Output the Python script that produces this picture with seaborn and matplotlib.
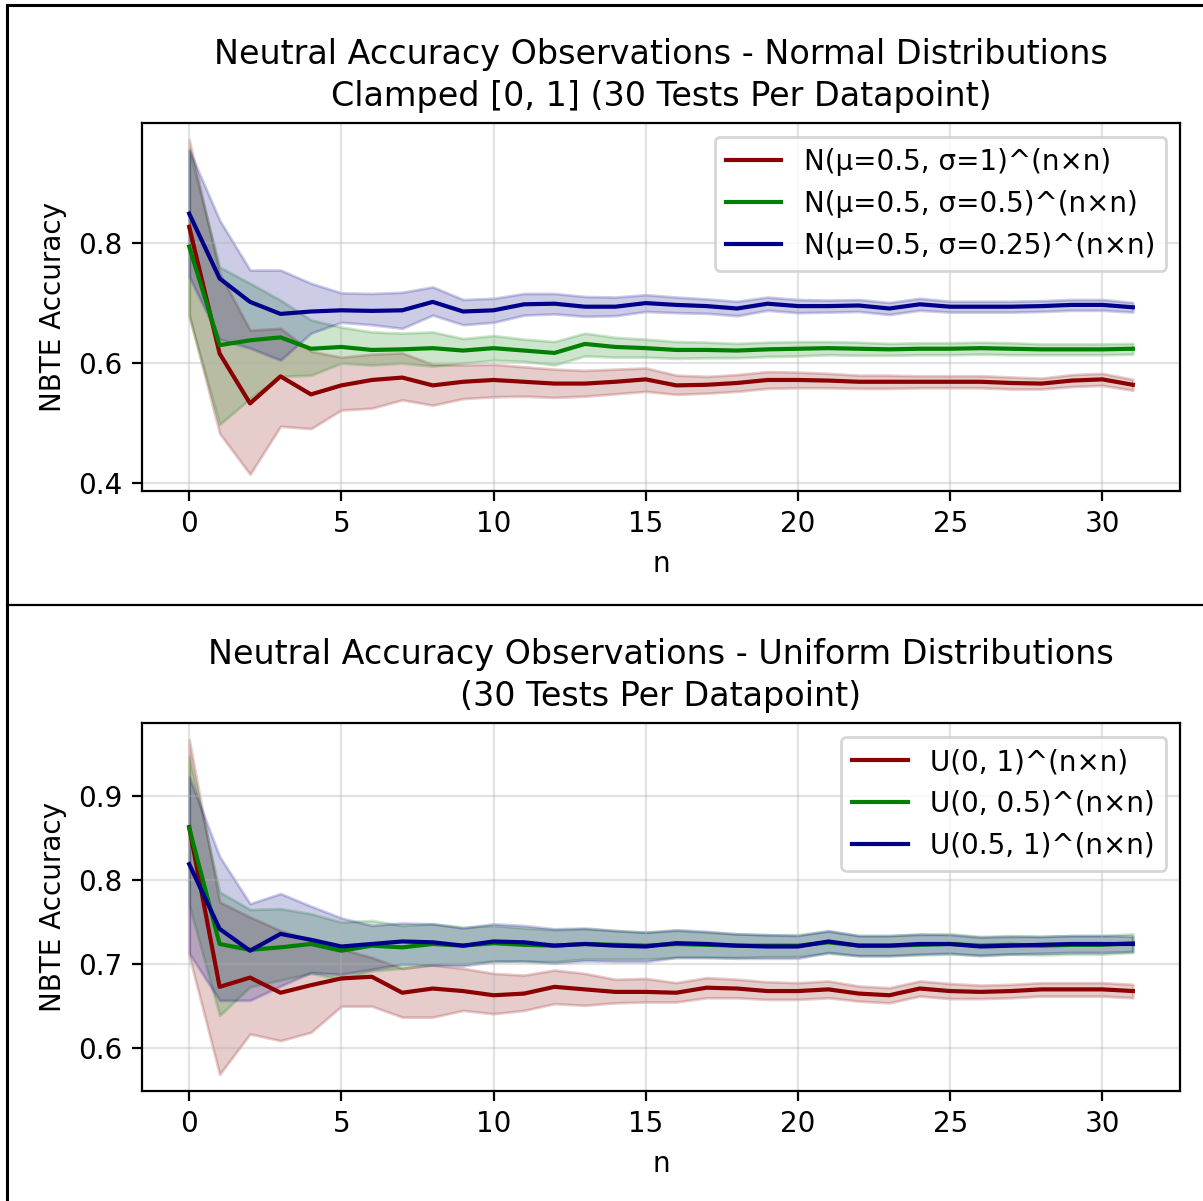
import numpy as np
import seaborn as sns
import matplotlib.pyplot as plt
from matplotlib.lines import Line2D

# n values (matrix size)
n = np.arange(32)

# Normal distributions (clamped [0, 1])
norm_labels = ["N(μ=0.5, σ=1)^(n×n)", "N(μ=0.5, σ=0.5)^(n×n)", "N(μ=0.5, σ=0.25)^(n×n)"]

norm1_mean = [0.827, 0.616, 0.533, 0.578, 0.548, 0.563, 0.572, 0.576, 0.563, 0.569, 0.572, 0.569, 0.566, 0.566, 0.569, 0.573,
              0.563, 0.564, 0.567, 0.572, 0.572, 0.571, 0.569, 0.569, 0.569, 0.569, 0.569, 0.567, 0.566, 0.571, 0.573, 0.564]
norm1_lo = [0.680, 0.483, 0.415, 0.495, 0.491, 0.522, 0.525, 0.539, 0.530, 0.541, 0.544, 0.545, 0.543, 0.545, 0.549, 0.553,
            0.548, 0.550, 0.553, 0.558, 0.559, 0.559, 0.558, 0.558, 0.559, 0.559, 0.559, 0.557, 0.557, 0.561, 0.563, 0.555]
norm1_hi = [0.972, 0.750, 0.655, 0.658, 0.620, 0.610, 0.615, 0.617, 0.598, 0.597, 0.598, 0.594, 0.590, 0.588, 0.590, 0.592,
            0.580, 0.578, 0.581, 0.586, 0.585, 0.583, 0.580, 0.580, 0.579, 0.579, 0.579, 0.577, 0.575, 0.581, 0.583, 0.573]

norm05_mean = [0.794, 0.630, 0.638, 0.643, 0.624, 0.627, 0.622, 0.623, 0.625, 0.621, 0.625, 0.621, 0.617, 0.632, 0.627, 0.625,
               0.622, 0.622, 0.621, 0.623, 0.624, 0.625, 0.624, 0.623, 0.624, 0.624, 0.625, 0.624, 0.623, 0.623, 0.623, 0.624]
norm05_lo = [0.677, 0.498, 0.541, 0.578, 0.580, 0.600, 0.597, 0.600, 0.595, 0.600, 0.605, 0.603, 0.597, 0.612, 0.610, 0.610,
             0.608, 0.609, 0.609, 0.611, 0.612, 0.614, 0.613, 0.613, 0.614, 0.614, 0.615, 0.614, 0.614, 0.614, 0.614, 0.615]
norm05_hi = [0.955, 0.760, 0.733, 0.705, 0.672, 0.660, 0.652, 0.650, 0.652, 0.641, 0.646, 0.640, 0.636, 0.650, 0.643, 0.640,
             0.636, 0.635, 0.633, 0.635, 0.636, 0.636, 0.635, 0.633, 0.634, 0.634, 0.635, 0.634, 0.632, 0.632, 0.632, 0.633]

norm025_mean = [0.849, 0.741, 0.702, 0.682, 0.686, 0.688, 0.687, 0.688, 0.702, 0.686, 0.688, 0.698, 0.699, 0.694, 0.694, 0.700,
                0.697, 0.695, 0.691, 0.699, 0.695, 0.695, 0.696, 0.691, 0.698, 0.694, 0.694, 0.694, 0.695, 0.697, 0.697, 0.693]
norm025_lo = [0.744, 0.640, 0.625, 0.605, 0.650, 0.668, 0.664, 0.658, 0.680, 0.664, 0.668, 0.680, 0.682, 0.678, 0.679, 0.686,
              0.684, 0.683, 0.679, 0.688, 0.684, 0.685, 0.686, 0.681, 0.688, 0.685, 0.685, 0.685, 0.686, 0.688, 0.688, 0.685]
norm025_hi = [0.955, 0.838, 0.755, 0.755, 0.733, 0.717, 0.716, 0.718, 0.727, 0.706, 0.708, 0.716, 0.716, 0.711, 0.710, 0.714,
              0.710, 0.707, 0.703, 0.710, 0.706, 0.705, 0.706, 0.701, 0.708, 0.703, 0.703, 0.703, 0.704, 0.706, 0.706, 0.701]

# Uniform distributions
unif_labels = ["U(0, 1)^(n×n)", "U(0, 0.5)^(n×n)", "U(0.5, 1)^(n×n)"]

u01_mean = [0.863, 0.673, 0.684, 0.666, 0.675, 0.683, 0.685, 0.666, 0.671, 0.668, 0.663, 0.665, 0.673, 0.670, 0.667, 0.667,
            0.666, 0.672, 0.671, 0.668, 0.668, 0.670, 0.665, 0.663, 0.671, 0.668, 0.667, 0.668, 0.670, 0.670, 0.670, 0.668]
u01_lo = [0.710, 0.569, 0.617, 0.609, 0.619, 0.650, 0.650, 0.637, 0.637, 0.645, 0.641, 0.645, 0.653, 0.651, 0.654, 0.655,
          0.655, 0.660, 0.660, 0.658, 0.658, 0.660, 0.656, 0.654, 0.662, 0.659, 0.659, 0.660, 0.662, 0.662, 0.662, 0.660]
u01_hi = [0.967, 0.774, 0.756, 0.740, 0.728, 0.718, 0.708, 0.695, 0.699, 0.695, 0.689, 0.687, 0.693, 0.689, 0.682, 0.683,
          0.678, 0.684, 0.682, 0.679, 0.678, 0.680, 0.674, 0.672, 0.680, 0.677, 0.675, 0.676, 0.678, 0.678, 0.678, 0.676]

u005_mean = [0.862, 0.724, 0.717, 0.720, 0.724, 0.716, 0.722, 0.720, 0.724, 0.722, 0.725, 0.723, 0.722, 0.724, 0.723, 0.722,
             0.724, 0.723, 0.722, 0.722, 0.722, 0.726, 0.722, 0.722, 0.723, 0.724, 0.722, 0.723, 0.722, 0.723, 0.723, 0.725]
u005_lo = [0.770, 0.639, 0.673, 0.681, 0.689, 0.682, 0.692, 0.695, 0.700, 0.700, 0.704, 0.703, 0.703, 0.706, 0.706, 0.706,
           0.708, 0.708, 0.708, 0.709, 0.709, 0.713, 0.710, 0.710, 0.711, 0.712, 0.711, 0.712, 0.711, 0.712, 0.712, 0.714]
u005_hi = [0.947, 0.786, 0.765, 0.766, 0.760, 0.750, 0.752, 0.746, 0.748, 0.744, 0.746, 0.743, 0.741, 0.742, 0.740, 0.738,
           0.740, 0.738, 0.736, 0.735, 0.735, 0.739, 0.734, 0.734, 0.735, 0.736, 0.733, 0.734, 0.733, 0.734, 0.734, 0.736]

u051_mean = [0.819, 0.742, 0.716, 0.736, 0.729, 0.721, 0.724, 0.727, 0.726, 0.722, 0.727, 0.726, 0.722, 0.724, 0.722, 0.721,
             0.725, 0.724, 0.722, 0.721, 0.721, 0.727, 0.722, 0.722, 0.724, 0.724, 0.721, 0.722, 0.723, 0.724, 0.724, 0.724]
u051_lo = [0.713, 0.657, 0.657, 0.674, 0.690, 0.688, 0.694, 0.700, 0.699, 0.698, 0.703, 0.704, 0.701, 0.704, 0.703, 0.703,
           0.708, 0.708, 0.707, 0.707, 0.707, 0.714, 0.710, 0.710, 0.712, 0.713, 0.710, 0.712, 0.713, 0.714, 0.714, 0.715]
u051_hi = [0.923, 0.828, 0.772, 0.784, 0.769, 0.755, 0.746, 0.749, 0.748, 0.743, 0.748, 0.746, 0.742, 0.743, 0.740, 0.738,
           0.741, 0.739, 0.736, 0.735, 0.734, 0.740, 0.734, 0.734, 0.736, 0.735, 0.732, 0.733, 0.733, 0.734, 0.734, 0.733]

colors = ["darkred", "green", "darkblue"]

fig = plt.figure(figsize=(1203 / 200, 1201 / 200), dpi=200)
ax1 = fig.add_axes([142 / 1203, 1 - 491 / 1201, 1038 / 1203, 368 / 1201])
ax2 = fig.add_axes([142 / 1203, 1 - 1091 / 1201, 1038 / 1203, 368 / 1201])


def draw_panel(ax, series, labels, title, yticks):
    for (mean, lo, hi), label, c in zip(series, labels, colors):
        sns.lineplot(x=n, y=mean, color=c, label=label, ax=ax, linewidth=1.5)
        ax.fill_between(n, lo, hi, color=c, alpha=0.2)
    ax.set_title(title, fontsize=12, linespacing=1.35)
    ax.set_xlabel("n")
    ax.set_ylabel("NBTE Accuracy")
    ax.set_xticks([0, 5, 10, 15, 20, 25, 30])
    ax.set_yticks(yticks)
    ax.grid(True, color="#b0b0b0", alpha=0.35, linewidth=0.8)
    ax.legend(loc="upper right")


draw_panel(ax1,
           [(norm1_mean, norm1_lo, norm1_hi), (norm05_mean, norm05_lo, norm05_hi), (norm025_mean, norm025_lo, norm025_hi)],
           norm_labels,
           "Neutral Accuracy Observations - Normal Distributions\nClamped [0, 1] (30 Tests Per Datapoint)",
           [0.4, 0.6, 0.8])
draw_panel(ax2,
           [(u01_mean, u01_lo, u01_hi), (u005_mean, u005_lo, u005_hi), (u051_mean, u051_lo, u051_hi)],
           unif_labels,
           "Neutral Accuracy Observations - Uniform Distributions\n(30 Tests Per Datapoint)",
           [0.6, 0.7, 0.8, 0.9])

# frame lines around the two stacked images
fig.add_artist(Line2D([7 / 1203, 7 / 1203], [0, 1 - 5 / 1201], color="black", linewidth=1.1, transform=fig.transFigure))
fig.add_artist(Line2D([7 / 1203, 1], [1 - 5 / 1201, 1 - 5 / 1201], color="black", linewidth=1.1, transform=fig.transFigure))
fig.add_artist(Line2D([7 / 1203, 1], [1 - 605 / 1201, 1 - 605 / 1201], color="black", linewidth=0.8, transform=fig.transFigure))

fig.savefig("out.png", dpi=200)
